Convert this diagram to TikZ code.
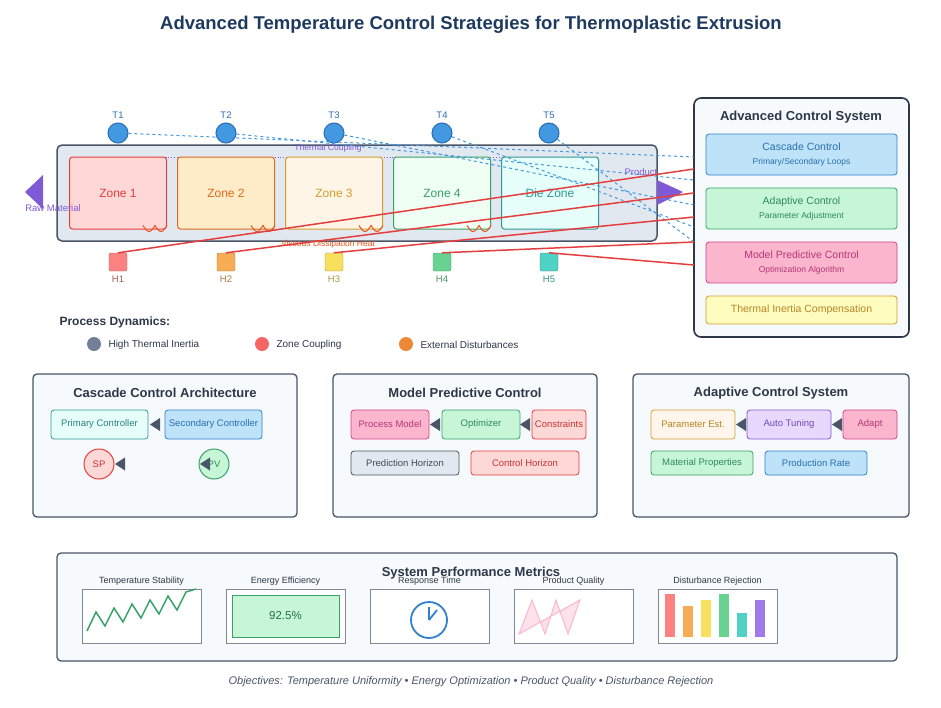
\documentclass[tikz,border=0pt]{standalone}
\usepackage{fontspec}
\setmainfont{Liberation Sans}
\usetikzlibrary{positioning,calc,shapes.geometric,decorations.pathmorphing}
\definecolor{navy}{HTML}{1E3A5F}
\definecolor{slate}{HTML}{4A5568}
\definecolor{dark}{HTML}{2D3748}
\definecolor{panel}{HTML}{F7FAFC}
\definecolor{barrel}{HTML}{E2E8F0}
\definecolor{purp}{HTML}{805AD5}
\definecolor{sensor}{HTML}{4299E1}
\definecolor{sensord}{HTML}{2B6CB0}
\definecolor{linkred}{HTML}{E53E3E}
\definecolor{tealc}{HTML}{319795}
\definecolor{bluec}{HTML}{3182CE}
\definecolor{bluef}{HTML}{BEE3F8}
\definecolor{greenc}{HTML}{38A169}
\definecolor{greenf}{HTML}{C6F6D5}
\definecolor{pinkc}{HTML}{D53F8C}
\definecolor{pinkf}{HTML}{FBB6CE}
\definecolor{redf}{HTML}{FED7D7}
\definecolor{orangec}{HTML}{DD6B20}
\definecolor{orangef}{HTML}{FEEBC8}
\definecolor{yellowc}{HTML}{D69E2E}
\definecolor{yellowf}{HTML}{FEFCBF}
\definecolor{creamf}{HTML}{FFF5E6}
\definecolor{mintf}{HTML}{F0FFF4}
\definecolor{tealf}{HTML}{E6FFFA}
\definecolor{lilacf}{HTML}{E9D8FD}
\newcommand{\fs}[1]{\fontsize{#1}{#1}\selectfont}
\tikzset{
  panelbox/.style={draw=slate, line width=1.3pt, fill=panel, rounded corners=4pt},
  zone/.style 2 args={draw=#1, fill=#2, line width=1pt, rounded corners=3pt,
    minimum width=97pt, minimum height=72pt, text=#1, font=\fs{12}},
  blk/.style 2 args={draw=#1, fill=#2, line width=.8pt, rounded corners=3pt,
    text=#1!85!black, font=\fs{9.5}, inner sep=0pt},
  tsens/.style={circle, fill=sensor, draw=sensord, line width=1pt, minimum size=20pt, inner sep=0pt},
  heater/.style={fill=#1, draw=#1!70!black, rounded corners=2pt, minimum size=18pt, inner sep=0pt},
  slink/.style={draw=sensor, dashed, line width=1pt},
  hlink/.style={draw=linkred, line width=1.5pt},
  tip/.style={fill=slate, draw=none},
  mbox/.style={draw=slate!70, fill=white, line width=.8pt, minimum width=119pt, minimum height=54pt},
  mlabel/.style={font=\fs{9}, text=dark},
}
\begin{document}
\begin{tikzpicture}[x=1pt,y=-1pt]
\useasboundingbox (0,0) rectangle (941,707);
\fill[white] (0,0) rectangle (941,707);

%title
\node[font=\bfseries\fs{18.5}, text=navy] (title) at (471,25) {Advanced Temperature Control Strategies for Thermoplastic Extrusion};

%barrel
\draw[line width=1.5pt, draw=slate, fill=barrel, rounded corners=5pt] (57,145) rectangle (657,241);
\fill[purp] (43,175) -- (25,192) -- (43,209) -- cycle;
\fill[purp] (657,180) -- (683,192) -- (657,205) -- cycle;
\draw[purp, dotted, line width=.8pt] (118,157) -- (598,157);

\node[zone={linkred}{redf}] (z1) at (118,193) {Zone 1};
\node[zone={orangec}{orangef}] (z2) at (226,193) {Zone 2};
\node[zone={yellowc}{creamf}] (z3) at (334,193) {Zone 3};
\node[zone={greenc}{mintf}] (z4) at (442,193) {Zone 4};
\node[zone={tealc}{tealf}] (z5) at (550,193) {Die Zone};
\foreach \z in {z1,z2,z3,z4}
  \draw[orangec!80!red, line width=1pt] ($(\z.south east)+(-24,-4)$) sin ++(6,6) cos ++(6,-6) sin ++(6,6) cos ++(6,-6);
\node[font=\fs{9.5}, text=purp] (raw) at (53,208) {Raw Material};
\node[font=\fs{9.5}, text=purp] (prod) at (641,172) {Product};
\node[font=\fs{8.5}, text=purp, inner sep=1pt] (tc) at (328,148) {Thermal Coupling};
\node[font=\fs{8.5}, text=orangec!80!red] (vd) at (328,244) {Viscous Dissipation Heat};

%sensors and heaters
\foreach \i/\x in {1/118,2/226,3/334,4/442,5/549}{
  \node[tsens] (t\i) at (\x,133) {};
  \node[font=\fs{9.5}, text=sensord, above=0pt of t\i] (tl\i) {T\i};
}
\foreach \i/\x/\c in {1/118/FC8181,2/226/F6AD55,3/334/F6E05E,4/442/68D391,5/549/4FD1C5}{
  \definecolor{hc\i}{HTML}{\c}
  \node[heater=hc\i] (h\i) at (\x,262) {};
  \node[font=\fs{9.5}, text=hc\i!70!black, below=1pt of h\i] (hl\i) {H\i};
}

%control system
\draw[panelbox, draw=dark, line width=1.6pt, rounded corners=7pt] (694,98) rectangle (909,337);
\node[font=\bfseries\fs{13}, text=dark] (cst) at (801,117) {Advanced Control System};
\node[blk={bluec}{bluef}, minimum width=191pt, minimum height=41pt, align=center] (cc) at (801.5,154.5) {{\fs{10.5}Cascade Control}\\[4pt]{\fs{8.5}Primary/Secondary Loops}};
\node[blk={greenc}{greenf}, minimum width=191pt, minimum height=41pt, align=center] (ac) at (801.5,208.5) {{\fs{10.5}Adaptive Control}\\[4pt]{\fs{8.5}Parameter Adjustment}};
\node[blk={pinkc}{pinkf}, minimum width=191pt, minimum height=41pt, align=center] (mp) at (801.5,262.5) {{\fs{10.5}Model Predictive Control}\\[4pt]{\fs{8.5}Optimization Algorithm}};
\node[blk={yellowc}{yellowf}, minimum width=191pt, minimum height=28pt, font=\fs{10.5}] (ti) at (801.5,310) {Thermal Inertia Compensation};

\foreach \i/\y in {1/157,2/180,3/205,4/227,5/242}{
  \coordinate (s\i) at (694,\y);
  \draw[slink] (t\i) -- (s\i);
}
\foreach \i/\y in {1/169,2/193,3/217,4/242,5/265}{
  \coordinate (r\i) at (694,\y);
  \draw[hlink] (h\i.north) -- (r\i);
}

%process dynamics
\node[font=\bfseries\fs{12}, text=dark, anchor=west] (pd) at (56,322) {Process Dynamics:};
\foreach \x/\c/\t [count=\i] in {94/718096/High Thermal Inertia,262/F56565/Zone Coupling,406/ED8936/External Disturbances}{
  \definecolor{dc\i}{HTML}{\c}
  \fill[dc\i] (\x,344) circle (7);
  \node[font=\fs{10}, text=dark, anchor=west] (d\i) at (\x+11,345) {\t};
}

%panels
\draw[panelbox] (33,374) rectangle (297,517);
\draw[panelbox] (333,374) rectangle (597,517);
\draw[panelbox] (633,374) rectangle (909,517);
\node[font=\bfseries\fs{13}, text=dark] (p1) at (165,393) {Cascade Control Architecture};
\node[font=\bfseries\fs{13}, text=dark] (p2) at (465,393) {Model Predictive Control};
\node[font=\bfseries\fs{13}, text=dark] (p3) at (771,393) {Adaptive Control System};

\node[blk={tealc}{tealf}, minimum width=97pt, minimum height=29pt] (pc) at (99.5,424.5) {Primary Controller};
\node[blk={bluec}{bluef}, minimum width=97pt, minimum height=29pt] (sc) at (213.5,424.5) {Secondary Controller};
\node[circle, draw=linkred, fill=redf, line width=1pt, minimum size=30pt, inner sep=0pt, text=linkred!85!black, font=\fs{9.5}] (sp) at (99,464) {SP};
\node[circle, draw=greenc, fill=greenf, line width=1pt, minimum size=30pt, inner sep=0pt, text=greenc!85!black, font=\fs{9.5}] (pv) at (214,464) {PV};
\fill[tip] (150,424.5) -- (160,418) -- (160,431) -- cycle;
\fill[tip] (115,464) -- (125,457.5) -- (125,470.5) -- cycle;
\fill[tip] (200,464) -- (210,457.5) -- (210,470.5) -- cycle;

\node[blk={pinkc}{pinkf}, minimum width=78pt, minimum height=29pt] (pm) at (390,424.5) {Process Model};
\node[blk={greenc}{greenf}, minimum width=78pt, minimum height=29pt] (op) at (481,424.5) {Optimizer};
\node[blk={linkred}{redf}, minimum width=54pt, minimum height=29pt] (cn) at (559,424.5) {Constraints};
\node[blk={slate}{barrel}, minimum width=108pt, minimum height=24pt] (ph) at (405,463) {Prediction Horizon};
\node[blk={linkred}{redf}, minimum width=108pt, minimum height=24pt] (ch) at (525,463) {Control Horizon};
\fill[tip] (430,424.5) -- (440,418) -- (440,431) -- cycle;
\fill[tip] (520,424.5) -- (530,418) -- (530,431) -- cycle;

\node[blk={yellowc}{orange!8}, minimum width=84pt, minimum height=29pt] (pe) at (693,424.5) {Parameter Est.};
\node[blk={purp}{lilacf}, minimum width=84pt, minimum height=29pt] (at) at (789,424.5) {Auto Tuning};
\node[blk={pinkc}{pinkf}, minimum width=54pt, minimum height=29pt] (ad) at (870,424.5) {Adapt};
\node[blk={greenc}{greenf}, minimum width=102pt, minimum height=24pt] (mt) at (702,463) {Material Properties};
\node[blk={bluec}{bluef}, minimum width=102pt, minimum height=24pt] (pr) at (816,463) {Production Rate};
\fill[tip] (736,424.5) -- (746,418) -- (746,431) -- cycle;
\fill[tip] (832,424.5) -- (842,418) -- (842,431) -- cycle;

%metrics
\draw[panelbox] (57,553) rectangle (897,661);
\foreach \x/\t [count=\i] in {82/Temperature Stability,226/Energy Efficiency,370/Response Time,514/Product Quality,658/Disturbance Rejection}{
  \node[mbox, anchor=north west] (m\i) at (\x,589) {};
  \node[mlabel] (ml\i) at (\x+59.5,581) {\t};
}
\node[font=\bfseries\fs{13}, text=dark] (mtt) at (471,573) {System Performance Metrics};
\draw[greenc, line width=1.5pt] (87,631) -- (96,612) -- (105,626) -- (114,608) -- (123,622) -- (132,604) -- (141,618) -- (150,600) -- (159,614) -- (168,596) -- (177,610) -- (186,592) -- (196,589);
\node[draw=greenc, fill=greenf, line width=1pt, minimum width=107pt, minimum height=42pt, font=\fs{11.5}, text=greenc!70!black] (ee) at (285.5,616) {92.5\%};
\draw[bluec, line width=1.8pt] (429,620) circle (18) (429,620) -- (429,607) (429,620) -- (437,610);
\draw[pinkf, fill=pinkf, fill opacity=.4, line width=1pt] (519,634) -- (532,600) -- (545,634) -- (556,600) -- (568,634) -- (580,600) -- cycle;
\foreach \x/\h/\c [count=\i] in {665/43/FC8181,683/31/F6AD55,701/37/F6E05E,719/43/68D391,737/24/4FD1C5,755/37/9F7AEA}{
  \definecolor{bc\i}{HTML}{\c}
  \fill[bc\i] (\x,637-\h) rectangle ++(10,\h);
}

%footer
\node[font=\itshape\fs{11}, text=slate] (foot) at (471,682) {Objectives: Temperature Uniformity • Energy Optimization • Product Quality • Disturbance Rejection};
\end{tikzpicture}
\end{document}
